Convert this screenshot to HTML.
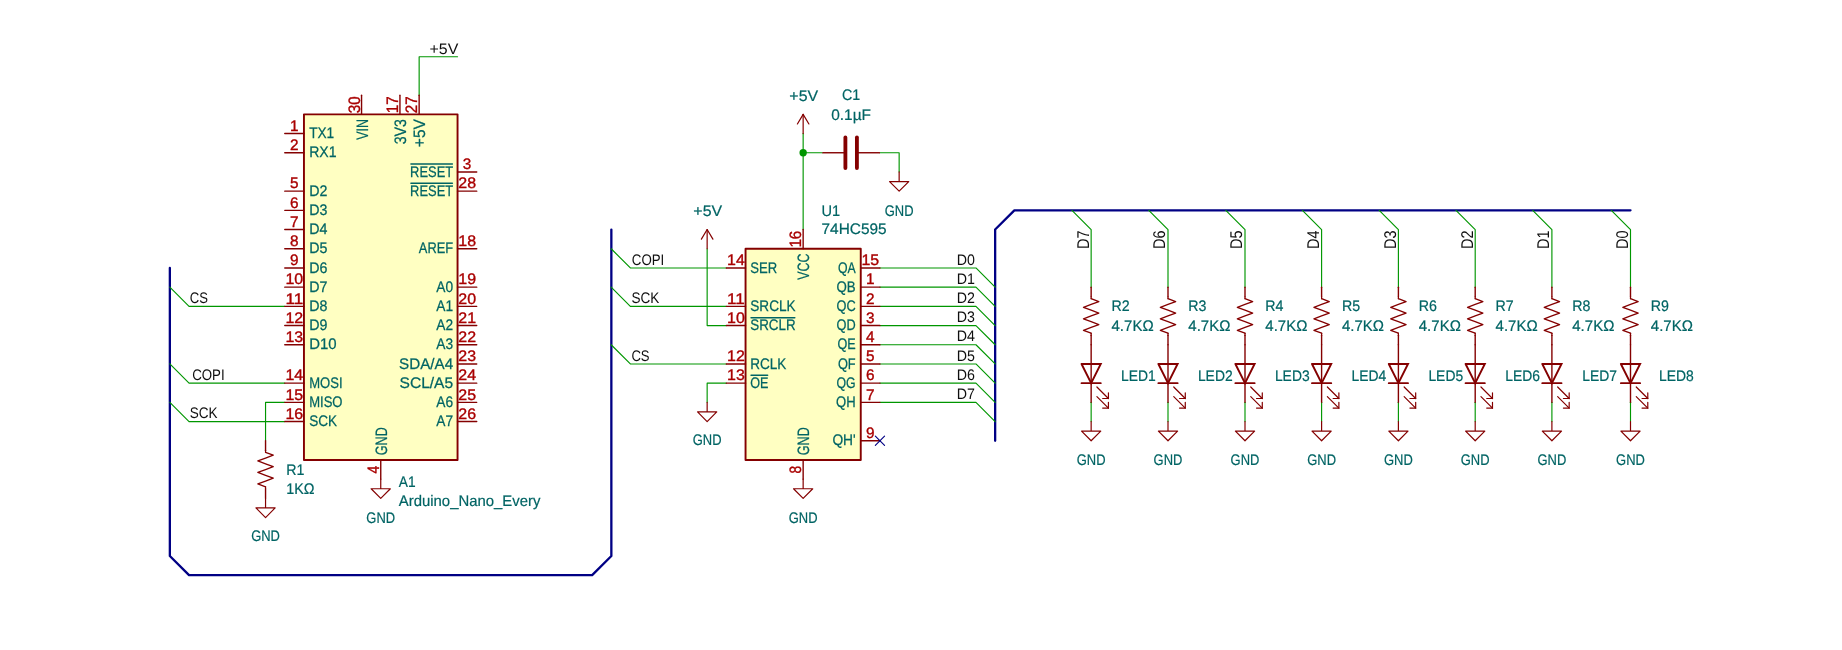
<!DOCTYPE html>
<html>
<head>
<meta charset="utf-8">
<title>Arduino Nano Every - 74HC595 LED schematic</title>
<style>
html,body{margin:0;padding:0;background:#ffffff;}
body{width:1842px;height:650px;overflow:hidden;}
svg{display:block;will-change:transform;}
svg text{font-family:"Liberation Sans",sans-serif;white-space:pre;text-rendering:geometricPrecision;}
</style>
</head>
<body>
<svg width="1842" height="650" viewBox="0 0 1842 650">
<rect x="0" y="0" width="1842" height="650" fill="#ffffff"/>
<g id="fills">
<rect x="303.95" y="114.35" width="153.60" height="345.60" fill="#ffffc2" stroke="#840000" stroke-width="1.92" stroke-linejoin="round"/>
<rect x="745.55" y="248.75" width="115.20" height="211.20" fill="#ffffc2" stroke="#840000" stroke-width="1.92" stroke-linejoin="round"/>
</g>
<g id="buses">
<path d="M169.85 267.95 L169.85 555.95 L189.05 575.15 L592.15 575.15 L611.35 555.95 L611.35 229.55" stroke="#000084" stroke-width="2.3" fill="none" stroke-linecap="round" stroke-linejoin="round"/>
<path d="M995.15 440.75 L995.15 229.55 L1014.35 210.35 L1630.50 210.35" stroke="#000084" stroke-width="2.3" fill="none" stroke-linecap="round" stroke-linejoin="round"/>
</g>
<g id="wires">
<path d="M169.85 287.15 L189.05 306.35 L284.75 306.35" stroke="#009600" stroke-width="1.15" fill="none" stroke-linecap="round" stroke-linejoin="round"/>
<path d="M169.85 363.95 L189.05 383.15 L284.75 383.15" stroke="#009600" stroke-width="1.15" fill="none" stroke-linecap="round" stroke-linejoin="round"/>
<path d="M169.85 402.35 L189.05 421.55 L284.75 421.55" stroke="#009600" stroke-width="1.15" fill="none" stroke-linecap="round" stroke-linejoin="round"/>
<path d="M284.75 402.35 L265.55 402.35 L265.55 440.75" stroke="#009600" stroke-width="1.15" fill="none" stroke-linecap="round" stroke-linejoin="round"/>
<path d="M419.15 95.15 L419.15 56.75 L457.55 56.75" stroke="#009600" stroke-width="1.15" fill="none" stroke-linecap="round" stroke-linejoin="round"/>
<path d="M611.15 248.75 L630.35 267.95 L726.35 267.95" stroke="#009600" stroke-width="1.15" fill="none" stroke-linecap="round" stroke-linejoin="round"/>
<path d="M611.15 287.15 L630.35 306.35 L726.35 306.35" stroke="#009600" stroke-width="1.15" fill="none" stroke-linecap="round" stroke-linejoin="round"/>
<path d="M611.15 344.75 L630.35 363.95 L726.35 363.95" stroke="#009600" stroke-width="1.15" fill="none" stroke-linecap="round" stroke-linejoin="round"/>
<path d="M707.15 248.75 L707.15 325.55 L726.35 325.55" stroke="#009600" stroke-width="1.15" fill="none" stroke-linecap="round" stroke-linejoin="round"/>
<path d="M726.35 383.15 L707.15 383.15 L707.15 402.35" stroke="#009600" stroke-width="1.15" fill="none" stroke-linecap="round" stroke-linejoin="round"/>
<path d="M803.15 229.55 L803.15 133.55" stroke="#009600" stroke-width="1.15" fill="none" stroke-linecap="round" stroke-linejoin="round"/>
<path d="M803.15 152.75 L822.35 152.75" stroke="#009600" stroke-width="1.15" fill="none" stroke-linecap="round" stroke-linejoin="round"/>
<path d="M879.95 152.75 L899.15 152.75 L899.15 171.95" stroke="#009600" stroke-width="1.15" fill="none" stroke-linecap="round" stroke-linejoin="round"/>
<path d="M879.95 267.95 L975.95 267.95 L995.15 287.15" stroke="#009600" stroke-width="1.15" fill="none" stroke-linecap="round" stroke-linejoin="round"/>
<path d="M879.95 287.15 L975.95 287.15 L995.15 306.35" stroke="#009600" stroke-width="1.15" fill="none" stroke-linecap="round" stroke-linejoin="round"/>
<path d="M879.95 306.35 L975.95 306.35 L995.15 325.55" stroke="#009600" stroke-width="1.15" fill="none" stroke-linecap="round" stroke-linejoin="round"/>
<path d="M879.95 325.55 L975.95 325.55 L995.15 344.75" stroke="#009600" stroke-width="1.15" fill="none" stroke-linecap="round" stroke-linejoin="round"/>
<path d="M879.95 344.75 L975.95 344.75 L995.15 363.95" stroke="#009600" stroke-width="1.15" fill="none" stroke-linecap="round" stroke-linejoin="round"/>
<path d="M879.95 363.95 L975.95 363.95 L995.15 383.15" stroke="#009600" stroke-width="1.15" fill="none" stroke-linecap="round" stroke-linejoin="round"/>
<path d="M879.95 383.15 L975.95 383.15 L995.15 402.35" stroke="#009600" stroke-width="1.15" fill="none" stroke-linecap="round" stroke-linejoin="round"/>
<path d="M879.95 402.35 L975.95 402.35 L995.15 421.55" stroke="#009600" stroke-width="1.15" fill="none" stroke-linecap="round" stroke-linejoin="round"/>
<path d="M1071.95 210.35 L1091.15 229.55 L1091.15 287.15" stroke="#009600" stroke-width="1.15" fill="none" stroke-linecap="round" stroke-linejoin="round"/>
<path d="M1091.15 402.35 L1091.15 421.55" stroke="#009600" stroke-width="1.15" fill="none" stroke-linecap="round" stroke-linejoin="round"/>
<path d="M1148.80 210.35 L1168.00 229.55 L1168.00 287.15" stroke="#009600" stroke-width="1.15" fill="none" stroke-linecap="round" stroke-linejoin="round"/>
<path d="M1168.00 402.35 L1168.00 421.55" stroke="#009600" stroke-width="1.15" fill="none" stroke-linecap="round" stroke-linejoin="round"/>
<path d="M1225.80 210.35 L1245.00 229.55 L1245.00 287.15" stroke="#009600" stroke-width="1.15" fill="none" stroke-linecap="round" stroke-linejoin="round"/>
<path d="M1245.00 402.35 L1245.00 421.55" stroke="#009600" stroke-width="1.15" fill="none" stroke-linecap="round" stroke-linejoin="round"/>
<path d="M1302.40 210.35 L1321.60 229.55 L1321.60 287.15" stroke="#009600" stroke-width="1.15" fill="none" stroke-linecap="round" stroke-linejoin="round"/>
<path d="M1321.60 402.35 L1321.60 421.55" stroke="#009600" stroke-width="1.15" fill="none" stroke-linecap="round" stroke-linejoin="round"/>
<path d="M1379.20 210.35 L1398.40 229.55 L1398.40 287.15" stroke="#009600" stroke-width="1.15" fill="none" stroke-linecap="round" stroke-linejoin="round"/>
<path d="M1398.40 402.35 L1398.40 421.55" stroke="#009600" stroke-width="1.15" fill="none" stroke-linecap="round" stroke-linejoin="round"/>
<path d="M1456.00 210.35 L1475.20 229.55 L1475.20 287.15" stroke="#009600" stroke-width="1.15" fill="none" stroke-linecap="round" stroke-linejoin="round"/>
<path d="M1475.20 402.35 L1475.20 421.55" stroke="#009600" stroke-width="1.15" fill="none" stroke-linecap="round" stroke-linejoin="round"/>
<path d="M1532.70 210.35 L1551.90 229.55 L1551.90 287.15" stroke="#009600" stroke-width="1.15" fill="none" stroke-linecap="round" stroke-linejoin="round"/>
<path d="M1551.90 402.35 L1551.90 421.55" stroke="#009600" stroke-width="1.15" fill="none" stroke-linecap="round" stroke-linejoin="round"/>
<path d="M1611.30 210.35 L1630.50 229.55 L1630.50 287.15" stroke="#009600" stroke-width="1.15" fill="none" stroke-linecap="round" stroke-linejoin="round"/>
<path d="M1630.50 402.35 L1630.50 421.55" stroke="#009600" stroke-width="1.15" fill="none" stroke-linecap="round" stroke-linejoin="round"/>
<circle cx="803.15" cy="152.75" r="3.7" fill="#009600"/>
</g>
<g id="arduino">
<path d="M284.75 133.55 L303.95 133.55" stroke="#840000" stroke-width="1.4" fill="none" stroke-linecap="round" stroke-linejoin="round"/>
<text x="309.15" y="138.20" fill="#006464" font-size="15.3" textLength="25.10" lengthAdjust="spacingAndGlyphs" stroke="#006464" stroke-width="0.25">TX1</text>
<text x="290.08" y="130.85" fill="#a90000" font-size="15.3" textLength="8.54" lengthAdjust="spacingAndGlyphs" stroke="#a90000" stroke-width="0.35">1</text>
<path d="M284.75 152.75 L303.95 152.75" stroke="#840000" stroke-width="1.4" fill="none" stroke-linecap="round" stroke-linejoin="round"/>
<text x="309.15" y="157.40" fill="#006464" font-size="15.3" textLength="27.40" lengthAdjust="spacingAndGlyphs" stroke="#006464" stroke-width="0.25">RX1</text>
<text x="290.08" y="150.05" fill="#a90000" font-size="15.3" textLength="8.54" lengthAdjust="spacingAndGlyphs" stroke="#a90000" stroke-width="0.35">2</text>
<path d="M284.75 191.15 L303.95 191.15" stroke="#840000" stroke-width="1.4" fill="none" stroke-linecap="round" stroke-linejoin="round"/>
<text x="309.15" y="195.80" fill="#006464" font-size="15.3" textLength="18.20" lengthAdjust="spacingAndGlyphs" stroke="#006464" stroke-width="0.25">D2</text>
<text x="290.08" y="188.45" fill="#a90000" font-size="15.3" textLength="8.54" lengthAdjust="spacingAndGlyphs" stroke="#a90000" stroke-width="0.35">5</text>
<path d="M284.75 210.35 L303.95 210.35" stroke="#840000" stroke-width="1.4" fill="none" stroke-linecap="round" stroke-linejoin="round"/>
<text x="309.15" y="215.00" fill="#006464" font-size="15.3" textLength="18.20" lengthAdjust="spacingAndGlyphs" stroke="#006464" stroke-width="0.25">D3</text>
<text x="290.08" y="207.65" fill="#a90000" font-size="15.3" textLength="8.54" lengthAdjust="spacingAndGlyphs" stroke="#a90000" stroke-width="0.35">6</text>
<path d="M284.75 229.55 L303.95 229.55" stroke="#840000" stroke-width="1.4" fill="none" stroke-linecap="round" stroke-linejoin="round"/>
<text x="309.15" y="234.20" fill="#006464" font-size="15.3" textLength="18.20" lengthAdjust="spacingAndGlyphs" stroke="#006464" stroke-width="0.25">D4</text>
<text x="290.08" y="226.85" fill="#a90000" font-size="15.3" textLength="8.54" lengthAdjust="spacingAndGlyphs" stroke="#a90000" stroke-width="0.35">7</text>
<path d="M284.75 248.75 L303.95 248.75" stroke="#840000" stroke-width="1.4" fill="none" stroke-linecap="round" stroke-linejoin="round"/>
<text x="309.15" y="253.40" fill="#006464" font-size="15.3" textLength="18.20" lengthAdjust="spacingAndGlyphs" stroke="#006464" stroke-width="0.25">D5</text>
<text x="290.08" y="246.05" fill="#a90000" font-size="15.3" textLength="8.54" lengthAdjust="spacingAndGlyphs" stroke="#a90000" stroke-width="0.35">8</text>
<path d="M284.75 267.95 L303.95 267.95" stroke="#840000" stroke-width="1.4" fill="none" stroke-linecap="round" stroke-linejoin="round"/>
<text x="309.15" y="272.60" fill="#006464" font-size="15.3" textLength="18.20" lengthAdjust="spacingAndGlyphs" stroke="#006464" stroke-width="0.25">D6</text>
<text x="290.08" y="265.25" fill="#a90000" font-size="15.3" textLength="8.54" lengthAdjust="spacingAndGlyphs" stroke="#a90000" stroke-width="0.35">9</text>
<path d="M284.75 287.15 L303.95 287.15" stroke="#840000" stroke-width="1.4" fill="none" stroke-linecap="round" stroke-linejoin="round"/>
<text x="309.15" y="291.80" fill="#006464" font-size="15.3" textLength="18.20" lengthAdjust="spacingAndGlyphs" stroke="#006464" stroke-width="0.25">D7</text>
<text x="285.48" y="284.45" fill="#a90000" font-size="15.3" textLength="17.74" lengthAdjust="spacingAndGlyphs" stroke="#a90000" stroke-width="0.35">10</text>
<path d="M284.75 306.35 L303.95 306.35" stroke="#840000" stroke-width="1.4" fill="none" stroke-linecap="round" stroke-linejoin="round"/>
<text x="309.15" y="311.00" fill="#006464" font-size="15.3" textLength="18.20" lengthAdjust="spacingAndGlyphs" stroke="#006464" stroke-width="0.25">D8</text>
<text x="285.48" y="303.65" fill="#a90000" font-size="15.3" textLength="17.74" lengthAdjust="spacingAndGlyphs" stroke="#a90000" stroke-width="0.35">11</text>
<path d="M284.75 325.55 L303.95 325.55" stroke="#840000" stroke-width="1.4" fill="none" stroke-linecap="round" stroke-linejoin="round"/>
<text x="309.15" y="330.20" fill="#006464" font-size="15.3" textLength="18.20" lengthAdjust="spacingAndGlyphs" stroke="#006464" stroke-width="0.25">D9</text>
<text x="285.48" y="322.85" fill="#a90000" font-size="15.3" textLength="17.74" lengthAdjust="spacingAndGlyphs" stroke="#a90000" stroke-width="0.35">12</text>
<path d="M284.75 344.75 L303.95 344.75" stroke="#840000" stroke-width="1.4" fill="none" stroke-linecap="round" stroke-linejoin="round"/>
<text x="309.15" y="349.40" fill="#006464" font-size="15.3" textLength="27.40" lengthAdjust="spacingAndGlyphs" stroke="#006464" stroke-width="0.25">D10</text>
<text x="285.48" y="342.05" fill="#a90000" font-size="15.3" textLength="17.74" lengthAdjust="spacingAndGlyphs" stroke="#a90000" stroke-width="0.35">13</text>
<path d="M284.75 383.15 L303.95 383.15" stroke="#840000" stroke-width="1.4" fill="none" stroke-linecap="round" stroke-linejoin="round"/>
<text x="309.15" y="387.80" fill="#006464" font-size="15.3" textLength="33.38" lengthAdjust="spacingAndGlyphs" stroke="#006464" stroke-width="0.25">MOSI</text>
<text x="285.48" y="380.45" fill="#a90000" font-size="15.3" textLength="17.74" lengthAdjust="spacingAndGlyphs" stroke="#a90000" stroke-width="0.35">14</text>
<path d="M284.75 402.35 L303.95 402.35" stroke="#840000" stroke-width="1.4" fill="none" stroke-linecap="round" stroke-linejoin="round"/>
<text x="309.15" y="407.00" fill="#006464" font-size="15.3" textLength="33.38" lengthAdjust="spacingAndGlyphs" stroke="#006464" stroke-width="0.25">MISO</text>
<text x="285.48" y="399.65" fill="#a90000" font-size="15.3" textLength="17.74" lengthAdjust="spacingAndGlyphs" stroke="#a90000" stroke-width="0.35">15</text>
<path d="M284.75 421.55 L303.95 421.55" stroke="#840000" stroke-width="1.4" fill="none" stroke-linecap="round" stroke-linejoin="round"/>
<text x="309.15" y="426.20" fill="#006464" font-size="15.3" textLength="27.86" lengthAdjust="spacingAndGlyphs" stroke="#006464" stroke-width="0.25">SCK</text>
<text x="285.48" y="418.85" fill="#a90000" font-size="15.3" textLength="17.74" lengthAdjust="spacingAndGlyphs" stroke="#a90000" stroke-width="0.35">16</text>
<path d="M457.55 171.95 L476.75 171.95" stroke="#840000" stroke-width="1.4" fill="none" stroke-linecap="round" stroke-linejoin="round"/>
<text x="410.11" y="176.60" fill="#006464" font-size="15.3" textLength="43.04" lengthAdjust="spacingAndGlyphs" stroke="#006464" stroke-width="0.25">RESET</text>
<path d="M410.91 164.10 L452.35 164.10" stroke="#006464" stroke-width="1.5" fill="none" stroke-linecap="round" stroke-linejoin="round"/>
<text x="462.88" y="169.25" fill="#a90000" font-size="15.3" textLength="8.54" lengthAdjust="spacingAndGlyphs" stroke="#a90000" stroke-width="0.35">3</text>
<path d="M457.55 191.15 L476.75 191.15" stroke="#840000" stroke-width="1.4" fill="none" stroke-linecap="round" stroke-linejoin="round"/>
<text x="410.11" y="195.80" fill="#006464" font-size="15.3" textLength="43.04" lengthAdjust="spacingAndGlyphs" stroke="#006464" stroke-width="0.25">RESET</text>
<path d="M410.91 183.30 L452.35 183.30" stroke="#006464" stroke-width="1.5" fill="none" stroke-linecap="round" stroke-linejoin="round"/>
<text x="458.28" y="188.45" fill="#a90000" font-size="15.3" textLength="17.74" lengthAdjust="spacingAndGlyphs" stroke="#a90000" stroke-width="0.35">28</text>
<path d="M457.55 248.75 L476.75 248.75" stroke="#840000" stroke-width="1.4" fill="none" stroke-linecap="round" stroke-linejoin="round"/>
<text x="418.85" y="253.40" fill="#006464" font-size="15.3" textLength="34.30" lengthAdjust="spacingAndGlyphs" stroke="#006464" stroke-width="0.25">AREF</text>
<text x="458.28" y="246.05" fill="#a90000" font-size="15.3" textLength="17.74" lengthAdjust="spacingAndGlyphs" stroke="#a90000" stroke-width="0.35">18</text>
<path d="M457.55 287.15 L476.75 287.15" stroke="#840000" stroke-width="1.4" fill="none" stroke-linecap="round" stroke-linejoin="round"/>
<text x="436.33" y="291.80" fill="#006464" font-size="15.3" textLength="16.82" lengthAdjust="spacingAndGlyphs" stroke="#006464" stroke-width="0.25">A0</text>
<text x="458.28" y="284.45" fill="#a90000" font-size="15.3" textLength="17.74" lengthAdjust="spacingAndGlyphs" stroke="#a90000" stroke-width="0.35">19</text>
<path d="M457.55 306.35 L476.75 306.35" stroke="#840000" stroke-width="1.4" fill="none" stroke-linecap="round" stroke-linejoin="round"/>
<text x="436.33" y="311.00" fill="#006464" font-size="15.3" textLength="16.82" lengthAdjust="spacingAndGlyphs" stroke="#006464" stroke-width="0.25">A1</text>
<text x="458.28" y="303.65" fill="#a90000" font-size="15.3" textLength="17.74" lengthAdjust="spacingAndGlyphs" stroke="#a90000" stroke-width="0.35">20</text>
<path d="M457.55 325.55 L476.75 325.55" stroke="#840000" stroke-width="1.4" fill="none" stroke-linecap="round" stroke-linejoin="round"/>
<text x="436.33" y="330.20" fill="#006464" font-size="15.3" textLength="16.82" lengthAdjust="spacingAndGlyphs" stroke="#006464" stroke-width="0.25">A2</text>
<text x="458.28" y="322.85" fill="#a90000" font-size="15.3" textLength="17.74" lengthAdjust="spacingAndGlyphs" stroke="#a90000" stroke-width="0.35">21</text>
<path d="M457.55 344.75 L476.75 344.75" stroke="#840000" stroke-width="1.4" fill="none" stroke-linecap="round" stroke-linejoin="round"/>
<text x="436.33" y="349.40" fill="#006464" font-size="15.3" textLength="16.82" lengthAdjust="spacingAndGlyphs" stroke="#006464" stroke-width="0.25">A3</text>
<text x="458.28" y="342.05" fill="#a90000" font-size="15.3" textLength="17.74" lengthAdjust="spacingAndGlyphs" stroke="#a90000" stroke-width="0.35">22</text>
<path d="M457.55 363.95 L476.75 363.95" stroke="#840000" stroke-width="1.4" fill="none" stroke-linecap="round" stroke-linejoin="round"/>
<text x="399.07" y="368.60" fill="#006464" font-size="15.3" textLength="54.08" lengthAdjust="spacingAndGlyphs" stroke="#006464" stroke-width="0.25">SDA/A4</text>
<text x="458.28" y="361.25" fill="#a90000" font-size="15.3" textLength="17.74" lengthAdjust="spacingAndGlyphs" stroke="#a90000" stroke-width="0.35">23</text>
<path d="M457.55 383.15 L476.75 383.15" stroke="#840000" stroke-width="1.4" fill="none" stroke-linecap="round" stroke-linejoin="round"/>
<text x="399.53" y="387.80" fill="#006464" font-size="15.3" textLength="53.62" lengthAdjust="spacingAndGlyphs" stroke="#006464" stroke-width="0.25">SCL/A5</text>
<text x="458.28" y="380.45" fill="#a90000" font-size="15.3" textLength="17.74" lengthAdjust="spacingAndGlyphs" stroke="#a90000" stroke-width="0.35">24</text>
<path d="M457.55 402.35 L476.75 402.35" stroke="#840000" stroke-width="1.4" fill="none" stroke-linecap="round" stroke-linejoin="round"/>
<text x="436.33" y="407.00" fill="#006464" font-size="15.3" textLength="16.82" lengthAdjust="spacingAndGlyphs" stroke="#006464" stroke-width="0.25">A6</text>
<text x="458.28" y="399.65" fill="#a90000" font-size="15.3" textLength="17.74" lengthAdjust="spacingAndGlyphs" stroke="#a90000" stroke-width="0.35">25</text>
<path d="M457.55 421.55 L476.75 421.55" stroke="#840000" stroke-width="1.4" fill="none" stroke-linecap="round" stroke-linejoin="round"/>
<text x="436.33" y="426.20" fill="#006464" font-size="15.3" textLength="16.82" lengthAdjust="spacingAndGlyphs" stroke="#006464" stroke-width="0.25">A7</text>
<text x="458.28" y="418.85" fill="#a90000" font-size="15.3" textLength="17.74" lengthAdjust="spacingAndGlyphs" stroke="#a90000" stroke-width="0.35">26</text>
<path d="M361.55 95.15 L361.55 114.35" stroke="#840000" stroke-width="1.4" fill="none" stroke-linecap="round" stroke-linejoin="round"/>
<text transform="translate(367.53 139.77) rotate(-90)" fill="#006464" font-size="16.5" textLength="20.62" lengthAdjust="spacingAndGlyphs" stroke="#006464" stroke-width="0.25">VIN</text>
<text transform="translate(359.68 113.22) rotate(-90)" fill="#a90000" font-size="16.5" textLength="16.94" lengthAdjust="spacingAndGlyphs" stroke="#a90000" stroke-width="0.35">30</text>
<path d="M399.95 95.15 L399.95 114.35" stroke="#840000" stroke-width="1.4" fill="none" stroke-linecap="round" stroke-linejoin="round"/>
<text transform="translate(405.93 144.37) rotate(-90)" fill="#006464" font-size="16.5" textLength="25.22" lengthAdjust="spacingAndGlyphs" stroke="#006464" stroke-width="0.25">3V3</text>
<text transform="translate(398.08 113.22) rotate(-90)" fill="#a90000" font-size="16.5" textLength="16.94" lengthAdjust="spacingAndGlyphs" stroke="#a90000" stroke-width="0.35">17</text>
<path d="M419.15 95.15 L419.15 114.35" stroke="#840000" stroke-width="1.4" fill="none" stroke-linecap="round" stroke-linejoin="round"/>
<text transform="translate(425.13 147.13) rotate(-90)" fill="#006464" font-size="16.5" textLength="27.98" lengthAdjust="spacingAndGlyphs" stroke="#006464" stroke-width="0.25">+5V</text>
<text transform="translate(417.28 113.22) rotate(-90)" fill="#a90000" font-size="16.5" textLength="16.94" lengthAdjust="spacingAndGlyphs" stroke="#a90000" stroke-width="0.35">27</text>
<path d="M380.75 459.95 L380.75 479.15" stroke="#840000" stroke-width="1.4" fill="none" stroke-linecap="round" stroke-linejoin="round"/>
<text transform="translate(386.93 455.25) rotate(-90)" fill="#006464" font-size="16.5" textLength="27.98" lengthAdjust="spacingAndGlyphs" stroke="#006464" stroke-width="0.25">GND</text>
<text transform="translate(378.88 473.42) rotate(-90)" fill="#a90000" font-size="16.5" textLength="7.74" lengthAdjust="spacingAndGlyphs" stroke="#a90000" stroke-width="0.35">4</text>
<text x="398.80" y="486.65" fill="#006464" font-size="15.3" textLength="16.82" lengthAdjust="spacingAndGlyphs" stroke="#006464" stroke-width="0.2">A1</text>
<text x="398.80" y="506.05" fill="#006464" font-size="15.3" textLength="141.57" lengthAdjust="spacingAndGlyphs" stroke="#006464" stroke-width="0.2">Arduino_Nano_Every</text>
</g>
<g id="u1">
<path d="M726.35 267.95 L745.55 267.95" stroke="#840000" stroke-width="1.4" fill="none" stroke-linecap="round" stroke-linejoin="round"/>
<text x="750.25" y="272.60" fill="#006464" font-size="15.3" textLength="26.94" lengthAdjust="spacingAndGlyphs" stroke="#006464" stroke-width="0.25">SER</text>
<text x="727.08" y="265.25" fill="#a90000" font-size="15.3" textLength="17.74" lengthAdjust="spacingAndGlyphs" stroke="#a90000" stroke-width="0.35">14</text>
<path d="M726.35 306.35 L745.55 306.35" stroke="#840000" stroke-width="1.4" fill="none" stroke-linecap="round" stroke-linejoin="round"/>
<text x="750.25" y="311.00" fill="#006464" font-size="15.3" textLength="45.34" lengthAdjust="spacingAndGlyphs" stroke="#006464" stroke-width="0.25">SRCLK</text>
<text x="727.08" y="303.65" fill="#a90000" font-size="15.3" textLength="17.74" lengthAdjust="spacingAndGlyphs" stroke="#a90000" stroke-width="0.35">11</text>
<path d="M726.35 325.55 L745.55 325.55" stroke="#840000" stroke-width="1.4" fill="none" stroke-linecap="round" stroke-linejoin="round"/>
<text x="750.25" y="330.20" fill="#006464" font-size="15.3" textLength="45.34" lengthAdjust="spacingAndGlyphs" stroke="#006464" stroke-width="0.25">SRCLR</text>
<path d="M751.05 317.70 L794.79 317.70" stroke="#006464" stroke-width="1.5" fill="none" stroke-linecap="round" stroke-linejoin="round"/>
<text x="727.08" y="322.85" fill="#a90000" font-size="15.3" textLength="17.74" lengthAdjust="spacingAndGlyphs" stroke="#a90000" stroke-width="0.35">10</text>
<path d="M726.35 363.95 L745.55 363.95" stroke="#840000" stroke-width="1.4" fill="none" stroke-linecap="round" stroke-linejoin="round"/>
<text x="750.25" y="368.60" fill="#006464" font-size="15.3" textLength="36.14" lengthAdjust="spacingAndGlyphs" stroke="#006464" stroke-width="0.25">RCLK</text>
<text x="727.08" y="361.25" fill="#a90000" font-size="15.3" textLength="17.74" lengthAdjust="spacingAndGlyphs" stroke="#a90000" stroke-width="0.35">12</text>
<path d="M726.35 383.15 L745.55 383.15" stroke="#840000" stroke-width="1.4" fill="none" stroke-linecap="round" stroke-linejoin="round"/>
<text x="750.25" y="387.80" fill="#006464" font-size="15.3" textLength="18.20" lengthAdjust="spacingAndGlyphs" stroke="#006464" stroke-width="0.25">OE</text>
<path d="M751.05 375.30 L767.65 375.30" stroke="#006464" stroke-width="1.5" fill="none" stroke-linecap="round" stroke-linejoin="round"/>
<text x="727.08" y="380.45" fill="#a90000" font-size="15.3" textLength="17.74" lengthAdjust="spacingAndGlyphs" stroke="#a90000" stroke-width="0.35">13</text>
<path d="M860.75 267.95 L879.95 267.95" stroke="#840000" stroke-width="1.4" fill="none" stroke-linecap="round" stroke-linejoin="round"/>
<text x="837.91" y="272.60" fill="#006464" font-size="15.3" textLength="17.74" lengthAdjust="spacingAndGlyphs" stroke="#006464" stroke-width="0.25">QA</text>
<text x="861.48" y="265.25" fill="#a90000" font-size="15.3" textLength="17.74" lengthAdjust="spacingAndGlyphs" stroke="#a90000" stroke-width="0.35">15</text>
<path d="M860.75 287.15 L879.95 287.15" stroke="#840000" stroke-width="1.4" fill="none" stroke-linecap="round" stroke-linejoin="round"/>
<text x="836.53" y="291.80" fill="#006464" font-size="15.3" textLength="19.12" lengthAdjust="spacingAndGlyphs" stroke="#006464" stroke-width="0.25">QB</text>
<text x="866.08" y="284.45" fill="#a90000" font-size="15.3" textLength="8.54" lengthAdjust="spacingAndGlyphs" stroke="#a90000" stroke-width="0.35">1</text>
<path d="M860.75 306.35 L879.95 306.35" stroke="#840000" stroke-width="1.4" fill="none" stroke-linecap="round" stroke-linejoin="round"/>
<text x="836.53" y="311.00" fill="#006464" font-size="15.3" textLength="19.12" lengthAdjust="spacingAndGlyphs" stroke="#006464" stroke-width="0.25">QC</text>
<text x="866.08" y="303.65" fill="#a90000" font-size="15.3" textLength="8.54" lengthAdjust="spacingAndGlyphs" stroke="#a90000" stroke-width="0.35">2</text>
<path d="M860.75 325.55 L879.95 325.55" stroke="#840000" stroke-width="1.4" fill="none" stroke-linecap="round" stroke-linejoin="round"/>
<text x="836.53" y="330.20" fill="#006464" font-size="15.3" textLength="19.12" lengthAdjust="spacingAndGlyphs" stroke="#006464" stroke-width="0.25">QD</text>
<text x="866.08" y="322.85" fill="#a90000" font-size="15.3" textLength="8.54" lengthAdjust="spacingAndGlyphs" stroke="#a90000" stroke-width="0.35">3</text>
<path d="M860.75 344.75 L879.95 344.75" stroke="#840000" stroke-width="1.4" fill="none" stroke-linecap="round" stroke-linejoin="round"/>
<text x="837.45" y="349.40" fill="#006464" font-size="15.3" textLength="18.20" lengthAdjust="spacingAndGlyphs" stroke="#006464" stroke-width="0.25">QE</text>
<text x="866.08" y="342.05" fill="#a90000" font-size="15.3" textLength="8.54" lengthAdjust="spacingAndGlyphs" stroke="#a90000" stroke-width="0.35">4</text>
<path d="M860.75 363.95 L879.95 363.95" stroke="#840000" stroke-width="1.4" fill="none" stroke-linecap="round" stroke-linejoin="round"/>
<text x="837.91" y="368.60" fill="#006464" font-size="15.3" textLength="17.74" lengthAdjust="spacingAndGlyphs" stroke="#006464" stroke-width="0.25">QF</text>
<text x="866.08" y="361.25" fill="#a90000" font-size="15.3" textLength="8.54" lengthAdjust="spacingAndGlyphs" stroke="#a90000" stroke-width="0.35">5</text>
<path d="M860.75 383.15 L879.95 383.15" stroke="#840000" stroke-width="1.4" fill="none" stroke-linecap="round" stroke-linejoin="round"/>
<text x="836.53" y="387.80" fill="#006464" font-size="15.3" textLength="19.12" lengthAdjust="spacingAndGlyphs" stroke="#006464" stroke-width="0.25">QG</text>
<text x="866.08" y="380.45" fill="#a90000" font-size="15.3" textLength="8.54" lengthAdjust="spacingAndGlyphs" stroke="#a90000" stroke-width="0.35">6</text>
<path d="M860.75 402.35 L879.95 402.35" stroke="#840000" stroke-width="1.4" fill="none" stroke-linecap="round" stroke-linejoin="round"/>
<text x="836.07" y="407.00" fill="#006464" font-size="15.3" textLength="19.58" lengthAdjust="spacingAndGlyphs" stroke="#006464" stroke-width="0.25">QH</text>
<text x="866.08" y="399.65" fill="#a90000" font-size="15.3" textLength="8.54" lengthAdjust="spacingAndGlyphs" stroke="#a90000" stroke-width="0.35">7</text>
<path d="M860.75 440.75 L879.95 440.75" stroke="#840000" stroke-width="1.4" fill="none" stroke-linecap="round" stroke-linejoin="round"/>
<text x="832.39" y="445.40" fill="#006464" font-size="15.3" textLength="23.26" lengthAdjust="spacingAndGlyphs" stroke="#006464" stroke-width="0.25">QH'</text>
<text x="866.08" y="438.05" fill="#a90000" font-size="15.3" textLength="8.54" lengthAdjust="spacingAndGlyphs" stroke="#a90000" stroke-width="0.35">9</text>
<path d="M803.15 229.55 L803.15 248.75" stroke="#840000" stroke-width="1.4" fill="none" stroke-linecap="round" stroke-linejoin="round"/>
<path d="M803.15 459.95 L803.15 479.15" stroke="#840000" stroke-width="1.4" fill="none" stroke-linecap="round" stroke-linejoin="round"/>
<text transform="translate(809.13 279.69) rotate(-90)" fill="#006464" font-size="16.5" textLength="26.14" lengthAdjust="spacingAndGlyphs" stroke="#006464" stroke-width="0.25">VCC</text>
<text transform="translate(801.28 247.62) rotate(-90)" fill="#a90000" font-size="16.5" textLength="16.94" lengthAdjust="spacingAndGlyphs" stroke="#a90000" stroke-width="0.35">16</text>
<text transform="translate(809.33 455.25) rotate(-90)" fill="#006464" font-size="16.5" textLength="27.98" lengthAdjust="spacingAndGlyphs" stroke="#006464" stroke-width="0.25">GND</text>
<text transform="translate(801.28 473.42) rotate(-90)" fill="#a90000" font-size="16.5" textLength="7.74" lengthAdjust="spacingAndGlyphs" stroke="#a90000" stroke-width="0.35">8</text>
<text x="821.50" y="215.65" fill="#006464" font-size="15.3" textLength="18.66" lengthAdjust="spacingAndGlyphs" stroke="#006464" stroke-width="0.2">U1</text>
<text x="821.50" y="234.45" fill="#006464" font-size="15.3" textLength="65.12" lengthAdjust="spacingAndGlyphs" stroke="#006464" stroke-width="0.2">74HC595</text>
<path d="M875.35 436.15 L884.55 445.35" stroke="#000084" stroke-width="1.15" fill="none" stroke-linecap="round" stroke-linejoin="round"/>
<path d="M875.35 445.35 L884.55 436.15" stroke="#000084" stroke-width="1.15" fill="none" stroke-linecap="round" stroke-linejoin="round"/>
</g>
<g id="parts">
<path d="M803.15 133.55 L803.15 114.35" stroke="#840000" stroke-width="1.2" fill="none" stroke-linecap="round" stroke-linejoin="round"/>
<path d="M797.39 123.95 L803.15 114.35 L808.91 123.95" stroke="#840000" stroke-width="1.2" fill="none" stroke-linecap="round" stroke-linejoin="round"/>
<text x="789.36" y="100.60" fill="#006464" font-size="15.3" textLength="28.78" lengthAdjust="spacingAndGlyphs" stroke="#006464" stroke-width="0.2">+5V</text>
<path d="M707.15 248.75 L707.15 229.55" stroke="#840000" stroke-width="1.2" fill="none" stroke-linecap="round" stroke-linejoin="round"/>
<path d="M701.39 239.15 L707.15 229.55 L712.91 239.15" stroke="#840000" stroke-width="1.2" fill="none" stroke-linecap="round" stroke-linejoin="round"/>
<text x="693.36" y="215.80" fill="#006464" font-size="15.3" textLength="28.78" lengthAdjust="spacingAndGlyphs" stroke="#006464" stroke-width="0.2">+5V</text>
<path d="M899.15 171.95 L899.15 181.55 L908.75 181.55 L899.15 191.15 L889.55 181.55 L899.15 181.55" stroke="#840000" stroke-width="1.2" fill="none" stroke-linecap="round" stroke-linejoin="round"/>
<text x="884.76" y="215.50" fill="#006464" font-size="15.3" textLength="28.78" lengthAdjust="spacingAndGlyphs" stroke="#006464" stroke-width="0.2">GND</text>
<path d="M707.15 402.35 L707.15 411.95 L716.75 411.95 L707.15 421.55 L697.55 411.95 L707.15 411.95" stroke="#840000" stroke-width="1.2" fill="none" stroke-linecap="round" stroke-linejoin="round"/>
<text x="692.76" y="445.40" fill="#006464" font-size="15.3" textLength="28.78" lengthAdjust="spacingAndGlyphs" stroke="#006464" stroke-width="0.2">GND</text>
<path d="M803.15 479.15 L803.15 488.75 L812.75 488.75 L803.15 498.35 L793.55 488.75 L803.15 488.75" stroke="#840000" stroke-width="1.2" fill="none" stroke-linecap="round" stroke-linejoin="round"/>
<text x="788.76" y="522.70" fill="#006464" font-size="15.3" textLength="28.78" lengthAdjust="spacingAndGlyphs" stroke="#006464" stroke-width="0.2">GND</text>
<path d="M380.75 479.15 L380.75 488.75 L390.35 488.75 L380.75 498.35 L371.15 488.75 L380.75 488.75" stroke="#840000" stroke-width="1.2" fill="none" stroke-linecap="round" stroke-linejoin="round"/>
<text x="366.36" y="522.70" fill="#006464" font-size="15.3" textLength="28.78" lengthAdjust="spacingAndGlyphs" stroke="#006464" stroke-width="0.2">GND</text>
<path d="M265.55 498.35 L265.55 507.95 L275.15 507.95 L265.55 517.55 L255.95 507.95 L265.55 507.95" stroke="#840000" stroke-width="1.2" fill="none" stroke-linecap="round" stroke-linejoin="round"/>
<text x="251.16" y="541.40" fill="#006464" font-size="15.3" textLength="28.78" lengthAdjust="spacingAndGlyphs" stroke="#006464" stroke-width="0.2">GND</text>
<path d="M822.35 152.75 L845.39 152.75" stroke="#840000" stroke-width="1.4" fill="none" stroke-linecap="butt" stroke-linejoin="round"/>
<path d="M856.91 152.75 L879.95 152.75" stroke="#840000" stroke-width="1.4" fill="none" stroke-linecap="butt" stroke-linejoin="round"/>
<path d="M845.39 137.39 L845.39 168.11" stroke="#840000" stroke-width="3.84" fill="none" stroke-linecap="round" stroke-linejoin="round"/>
<path d="M856.91 137.39 L856.91 168.11" stroke="#840000" stroke-width="3.84" fill="none" stroke-linecap="round" stroke-linejoin="round"/>
<text x="842.05" y="100.20" fill="#006464" font-size="15.3" textLength="18.20" lengthAdjust="spacingAndGlyphs" stroke="#006464" stroke-width="0.2">C1</text>
<text x="831.24" y="119.60" fill="#006464" font-size="15.3" textLength="39.82" lengthAdjust="spacingAndGlyphs" stroke="#006464" stroke-width="0.2">0.1µF</text>
<path d="M265.55 440.75 L265.55 450.35" stroke="#840000" stroke-width="1.4" fill="none" stroke-linecap="round" stroke-linejoin="round"/>
<path d="M265.55 450.35 L265.55 452.27" stroke="#840000" stroke-width="1.2" fill="none" stroke-linecap="round" stroke-linejoin="round"/>
<path d="M265.55 452.27 L273.23 455.15 L265.55 458.03 L257.87 460.91 L265.55 463.79 L273.23 466.67 L265.55 469.55 L257.87 472.43 L265.55 475.31 L273.23 478.19 L265.55 481.07 L257.87 483.95 L265.55 486.83" stroke="#840000" stroke-width="1.3" fill="none" stroke-linecap="round" stroke-linejoin="round"/>
<path d="M265.55 486.83 L265.55 488.75" stroke="#840000" stroke-width="1.2" fill="none" stroke-linecap="round" stroke-linejoin="round"/>
<path d="M265.55 488.75 L265.55 498.35" stroke="#840000" stroke-width="1.4" fill="none" stroke-linecap="round" stroke-linejoin="round"/>
<text x="286.20" y="475.20" fill="#006464" font-size="15.3" textLength="18.20" lengthAdjust="spacingAndGlyphs" stroke="#006464" stroke-width="0.2">R1</text>
<text x="286.20" y="494.20" fill="#006464" font-size="15.3" textLength="28.32" lengthAdjust="spacingAndGlyphs" stroke="#006464" stroke-width="0.2">1KΩ</text>
<path d="M1091.15 287.15 L1091.15 296.75" stroke="#840000" stroke-width="1.4" fill="none" stroke-linecap="round" stroke-linejoin="round"/>
<path d="M1091.15 296.75 L1091.15 298.67" stroke="#840000" stroke-width="1.2" fill="none" stroke-linecap="round" stroke-linejoin="round"/>
<path d="M1091.15 298.67 L1098.83 301.55 L1091.15 304.43 L1083.47 307.31 L1091.15 310.19 L1098.83 313.07 L1091.15 315.95 L1083.47 318.83 L1091.15 321.71 L1098.83 324.59 L1091.15 327.47 L1083.47 330.35 L1091.15 333.23" stroke="#840000" stroke-width="1.3" fill="none" stroke-linecap="round" stroke-linejoin="round"/>
<path d="M1091.15 333.23 L1091.15 335.15" stroke="#840000" stroke-width="1.2" fill="none" stroke-linecap="round" stroke-linejoin="round"/>
<path d="M1091.15 335.15 L1091.15 344.75" stroke="#840000" stroke-width="1.4" fill="none" stroke-linecap="round" stroke-linejoin="round"/>
<text x="1111.50" y="311.40" fill="#006464" font-size="15.3" textLength="18.20" lengthAdjust="spacingAndGlyphs" stroke="#006464" stroke-width="0.2">R2</text>
<text x="1111.50" y="331.00" fill="#006464" font-size="15.3" textLength="42.12" lengthAdjust="spacingAndGlyphs" stroke="#006464" stroke-width="0.2">4.7KΩ</text>
<path d="M1091.15 344.75 L1091.15 402.35" stroke="#840000" stroke-width="1.4" fill="none" stroke-linecap="round" stroke-linejoin="round"/>
<path d="M1081.55 363.95 L1100.75 363.95 L1091.15 383.15 L1081.55 363.95" stroke="#840000" stroke-width="1.92" fill="none" stroke-linecap="round" stroke-linejoin="miter" stroke-miterlimit="10"/>
<path d="M1081.55 383.15 L1100.75 383.15" stroke="#840000" stroke-width="1.92" fill="none" stroke-linecap="round" stroke-linejoin="round"/>
<path d="M1096.91 386.99 L1108.43 398.51" stroke="#840000" stroke-width="1.2" fill="none" stroke-linecap="round" stroke-linejoin="round"/>
<path d="M1108.43 392.75 L1108.43 398.51 L1102.67 398.51" stroke="#840000" stroke-width="1.2" fill="none" stroke-linecap="round" stroke-linejoin="miter"/>
<path d="M1096.91 396.59 L1108.43 408.11" stroke="#840000" stroke-width="1.2" fill="none" stroke-linecap="round" stroke-linejoin="round"/>
<path d="M1108.43 402.35 L1108.43 408.11 L1102.67 408.11" stroke="#840000" stroke-width="1.2" fill="none" stroke-linecap="round" stroke-linejoin="miter"/>
<text x="1121.05" y="380.80" fill="#006464" font-size="15.3" textLength="34.76" lengthAdjust="spacingAndGlyphs" stroke="#006464" stroke-width="0.2">LED1</text>
<path d="M1091.15 421.55 L1091.15 431.15 L1100.75 431.15 L1091.15 440.75 L1081.55 431.15 L1091.15 431.15" stroke="#840000" stroke-width="1.2" fill="none" stroke-linecap="round" stroke-linejoin="round"/>
<text x="1076.76" y="465.10" fill="#006464" font-size="15.3" textLength="28.78" lengthAdjust="spacingAndGlyphs" stroke="#006464" stroke-width="0.2">GND</text>
<path d="M1168.00 287.15 L1168.00 296.75" stroke="#840000" stroke-width="1.4" fill="none" stroke-linecap="round" stroke-linejoin="round"/>
<path d="M1168.00 296.75 L1168.00 298.67" stroke="#840000" stroke-width="1.2" fill="none" stroke-linecap="round" stroke-linejoin="round"/>
<path d="M1168.00 298.67 L1175.68 301.55 L1168.00 304.43 L1160.32 307.31 L1168.00 310.19 L1175.68 313.07 L1168.00 315.95 L1160.32 318.83 L1168.00 321.71 L1175.68 324.59 L1168.00 327.47 L1160.32 330.35 L1168.00 333.23" stroke="#840000" stroke-width="1.3" fill="none" stroke-linecap="round" stroke-linejoin="round"/>
<path d="M1168.00 333.23 L1168.00 335.15" stroke="#840000" stroke-width="1.2" fill="none" stroke-linecap="round" stroke-linejoin="round"/>
<path d="M1168.00 335.15 L1168.00 344.75" stroke="#840000" stroke-width="1.4" fill="none" stroke-linecap="round" stroke-linejoin="round"/>
<text x="1188.35" y="311.40" fill="#006464" font-size="15.3" textLength="18.20" lengthAdjust="spacingAndGlyphs" stroke="#006464" stroke-width="0.2">R3</text>
<text x="1188.35" y="331.00" fill="#006464" font-size="15.3" textLength="42.12" lengthAdjust="spacingAndGlyphs" stroke="#006464" stroke-width="0.2">4.7KΩ</text>
<path d="M1168.00 344.75 L1168.00 402.35" stroke="#840000" stroke-width="1.4" fill="none" stroke-linecap="round" stroke-linejoin="round"/>
<path d="M1158.40 363.95 L1177.60 363.95 L1168.00 383.15 L1158.40 363.95" stroke="#840000" stroke-width="1.92" fill="none" stroke-linecap="round" stroke-linejoin="miter" stroke-miterlimit="10"/>
<path d="M1158.40 383.15 L1177.60 383.15" stroke="#840000" stroke-width="1.92" fill="none" stroke-linecap="round" stroke-linejoin="round"/>
<path d="M1173.76 386.99 L1185.28 398.51" stroke="#840000" stroke-width="1.2" fill="none" stroke-linecap="round" stroke-linejoin="round"/>
<path d="M1185.28 392.75 L1185.28 398.51 L1179.52 398.51" stroke="#840000" stroke-width="1.2" fill="none" stroke-linecap="round" stroke-linejoin="miter"/>
<path d="M1173.76 396.59 L1185.28 408.11" stroke="#840000" stroke-width="1.2" fill="none" stroke-linecap="round" stroke-linejoin="round"/>
<path d="M1185.28 402.35 L1185.28 408.11 L1179.52 408.11" stroke="#840000" stroke-width="1.2" fill="none" stroke-linecap="round" stroke-linejoin="miter"/>
<text x="1197.90" y="380.80" fill="#006464" font-size="15.3" textLength="34.76" lengthAdjust="spacingAndGlyphs" stroke="#006464" stroke-width="0.2">LED2</text>
<path d="M1168.00 421.55 L1168.00 431.15 L1177.60 431.15 L1168.00 440.75 L1158.40 431.15 L1168.00 431.15" stroke="#840000" stroke-width="1.2" fill="none" stroke-linecap="round" stroke-linejoin="round"/>
<text x="1153.61" y="465.10" fill="#006464" font-size="15.3" textLength="28.78" lengthAdjust="spacingAndGlyphs" stroke="#006464" stroke-width="0.2">GND</text>
<path d="M1245.00 287.15 L1245.00 296.75" stroke="#840000" stroke-width="1.4" fill="none" stroke-linecap="round" stroke-linejoin="round"/>
<path d="M1245.00 296.75 L1245.00 298.67" stroke="#840000" stroke-width="1.2" fill="none" stroke-linecap="round" stroke-linejoin="round"/>
<path d="M1245.00 298.67 L1252.68 301.55 L1245.00 304.43 L1237.32 307.31 L1245.00 310.19 L1252.68 313.07 L1245.00 315.95 L1237.32 318.83 L1245.00 321.71 L1252.68 324.59 L1245.00 327.47 L1237.32 330.35 L1245.00 333.23" stroke="#840000" stroke-width="1.3" fill="none" stroke-linecap="round" stroke-linejoin="round"/>
<path d="M1245.00 333.23 L1245.00 335.15" stroke="#840000" stroke-width="1.2" fill="none" stroke-linecap="round" stroke-linejoin="round"/>
<path d="M1245.00 335.15 L1245.00 344.75" stroke="#840000" stroke-width="1.4" fill="none" stroke-linecap="round" stroke-linejoin="round"/>
<text x="1265.35" y="311.40" fill="#006464" font-size="15.3" textLength="18.20" lengthAdjust="spacingAndGlyphs" stroke="#006464" stroke-width="0.2">R4</text>
<text x="1265.35" y="331.00" fill="#006464" font-size="15.3" textLength="42.12" lengthAdjust="spacingAndGlyphs" stroke="#006464" stroke-width="0.2">4.7KΩ</text>
<path d="M1245.00 344.75 L1245.00 402.35" stroke="#840000" stroke-width="1.4" fill="none" stroke-linecap="round" stroke-linejoin="round"/>
<path d="M1235.40 363.95 L1254.60 363.95 L1245.00 383.15 L1235.40 363.95" stroke="#840000" stroke-width="1.92" fill="none" stroke-linecap="round" stroke-linejoin="miter" stroke-miterlimit="10"/>
<path d="M1235.40 383.15 L1254.60 383.15" stroke="#840000" stroke-width="1.92" fill="none" stroke-linecap="round" stroke-linejoin="round"/>
<path d="M1250.76 386.99 L1262.28 398.51" stroke="#840000" stroke-width="1.2" fill="none" stroke-linecap="round" stroke-linejoin="round"/>
<path d="M1262.28 392.75 L1262.28 398.51 L1256.52 398.51" stroke="#840000" stroke-width="1.2" fill="none" stroke-linecap="round" stroke-linejoin="miter"/>
<path d="M1250.76 396.59 L1262.28 408.11" stroke="#840000" stroke-width="1.2" fill="none" stroke-linecap="round" stroke-linejoin="round"/>
<path d="M1262.28 402.35 L1262.28 408.11 L1256.52 408.11" stroke="#840000" stroke-width="1.2" fill="none" stroke-linecap="round" stroke-linejoin="miter"/>
<text x="1274.90" y="380.80" fill="#006464" font-size="15.3" textLength="34.76" lengthAdjust="spacingAndGlyphs" stroke="#006464" stroke-width="0.2">LED3</text>
<path d="M1245.00 421.55 L1245.00 431.15 L1254.60 431.15 L1245.00 440.75 L1235.40 431.15 L1245.00 431.15" stroke="#840000" stroke-width="1.2" fill="none" stroke-linecap="round" stroke-linejoin="round"/>
<text x="1230.61" y="465.10" fill="#006464" font-size="15.3" textLength="28.78" lengthAdjust="spacingAndGlyphs" stroke="#006464" stroke-width="0.2">GND</text>
<path d="M1321.60 287.15 L1321.60 296.75" stroke="#840000" stroke-width="1.4" fill="none" stroke-linecap="round" stroke-linejoin="round"/>
<path d="M1321.60 296.75 L1321.60 298.67" stroke="#840000" stroke-width="1.2" fill="none" stroke-linecap="round" stroke-linejoin="round"/>
<path d="M1321.60 298.67 L1329.28 301.55 L1321.60 304.43 L1313.92 307.31 L1321.60 310.19 L1329.28 313.07 L1321.60 315.95 L1313.92 318.83 L1321.60 321.71 L1329.28 324.59 L1321.60 327.47 L1313.92 330.35 L1321.60 333.23" stroke="#840000" stroke-width="1.3" fill="none" stroke-linecap="round" stroke-linejoin="round"/>
<path d="M1321.60 333.23 L1321.60 335.15" stroke="#840000" stroke-width="1.2" fill="none" stroke-linecap="round" stroke-linejoin="round"/>
<path d="M1321.60 335.15 L1321.60 344.75" stroke="#840000" stroke-width="1.4" fill="none" stroke-linecap="round" stroke-linejoin="round"/>
<text x="1341.95" y="311.40" fill="#006464" font-size="15.3" textLength="18.20" lengthAdjust="spacingAndGlyphs" stroke="#006464" stroke-width="0.2">R5</text>
<text x="1341.95" y="331.00" fill="#006464" font-size="15.3" textLength="42.12" lengthAdjust="spacingAndGlyphs" stroke="#006464" stroke-width="0.2">4.7KΩ</text>
<path d="M1321.60 344.75 L1321.60 402.35" stroke="#840000" stroke-width="1.4" fill="none" stroke-linecap="round" stroke-linejoin="round"/>
<path d="M1312.00 363.95 L1331.20 363.95 L1321.60 383.15 L1312.00 363.95" stroke="#840000" stroke-width="1.92" fill="none" stroke-linecap="round" stroke-linejoin="miter" stroke-miterlimit="10"/>
<path d="M1312.00 383.15 L1331.20 383.15" stroke="#840000" stroke-width="1.92" fill="none" stroke-linecap="round" stroke-linejoin="round"/>
<path d="M1327.36 386.99 L1338.88 398.51" stroke="#840000" stroke-width="1.2" fill="none" stroke-linecap="round" stroke-linejoin="round"/>
<path d="M1338.88 392.75 L1338.88 398.51 L1333.12 398.51" stroke="#840000" stroke-width="1.2" fill="none" stroke-linecap="round" stroke-linejoin="miter"/>
<path d="M1327.36 396.59 L1338.88 408.11" stroke="#840000" stroke-width="1.2" fill="none" stroke-linecap="round" stroke-linejoin="round"/>
<path d="M1338.88 402.35 L1338.88 408.11 L1333.12 408.11" stroke="#840000" stroke-width="1.2" fill="none" stroke-linecap="round" stroke-linejoin="miter"/>
<text x="1351.50" y="380.80" fill="#006464" font-size="15.3" textLength="34.76" lengthAdjust="spacingAndGlyphs" stroke="#006464" stroke-width="0.2">LED4</text>
<path d="M1321.60 421.55 L1321.60 431.15 L1331.20 431.15 L1321.60 440.75 L1312.00 431.15 L1321.60 431.15" stroke="#840000" stroke-width="1.2" fill="none" stroke-linecap="round" stroke-linejoin="round"/>
<text x="1307.21" y="465.10" fill="#006464" font-size="15.3" textLength="28.78" lengthAdjust="spacingAndGlyphs" stroke="#006464" stroke-width="0.2">GND</text>
<path d="M1398.40 287.15 L1398.40 296.75" stroke="#840000" stroke-width="1.4" fill="none" stroke-linecap="round" stroke-linejoin="round"/>
<path d="M1398.40 296.75 L1398.40 298.67" stroke="#840000" stroke-width="1.2" fill="none" stroke-linecap="round" stroke-linejoin="round"/>
<path d="M1398.40 298.67 L1406.08 301.55 L1398.40 304.43 L1390.72 307.31 L1398.40 310.19 L1406.08 313.07 L1398.40 315.95 L1390.72 318.83 L1398.40 321.71 L1406.08 324.59 L1398.40 327.47 L1390.72 330.35 L1398.40 333.23" stroke="#840000" stroke-width="1.3" fill="none" stroke-linecap="round" stroke-linejoin="round"/>
<path d="M1398.40 333.23 L1398.40 335.15" stroke="#840000" stroke-width="1.2" fill="none" stroke-linecap="round" stroke-linejoin="round"/>
<path d="M1398.40 335.15 L1398.40 344.75" stroke="#840000" stroke-width="1.4" fill="none" stroke-linecap="round" stroke-linejoin="round"/>
<text x="1418.75" y="311.40" fill="#006464" font-size="15.3" textLength="18.20" lengthAdjust="spacingAndGlyphs" stroke="#006464" stroke-width="0.2">R6</text>
<text x="1418.75" y="331.00" fill="#006464" font-size="15.3" textLength="42.12" lengthAdjust="spacingAndGlyphs" stroke="#006464" stroke-width="0.2">4.7KΩ</text>
<path d="M1398.40 344.75 L1398.40 402.35" stroke="#840000" stroke-width="1.4" fill="none" stroke-linecap="round" stroke-linejoin="round"/>
<path d="M1388.80 363.95 L1408.00 363.95 L1398.40 383.15 L1388.80 363.95" stroke="#840000" stroke-width="1.92" fill="none" stroke-linecap="round" stroke-linejoin="miter" stroke-miterlimit="10"/>
<path d="M1388.80 383.15 L1408.00 383.15" stroke="#840000" stroke-width="1.92" fill="none" stroke-linecap="round" stroke-linejoin="round"/>
<path d="M1404.16 386.99 L1415.68 398.51" stroke="#840000" stroke-width="1.2" fill="none" stroke-linecap="round" stroke-linejoin="round"/>
<path d="M1415.68 392.75 L1415.68 398.51 L1409.92 398.51" stroke="#840000" stroke-width="1.2" fill="none" stroke-linecap="round" stroke-linejoin="miter"/>
<path d="M1404.16 396.59 L1415.68 408.11" stroke="#840000" stroke-width="1.2" fill="none" stroke-linecap="round" stroke-linejoin="round"/>
<path d="M1415.68 402.35 L1415.68 408.11 L1409.92 408.11" stroke="#840000" stroke-width="1.2" fill="none" stroke-linecap="round" stroke-linejoin="miter"/>
<text x="1428.40" y="380.80" fill="#006464" font-size="15.3" textLength="34.76" lengthAdjust="spacingAndGlyphs" stroke="#006464" stroke-width="0.2">LED5</text>
<path d="M1398.40 421.55 L1398.40 431.15 L1408.00 431.15 L1398.40 440.75 L1388.80 431.15 L1398.40 431.15" stroke="#840000" stroke-width="1.2" fill="none" stroke-linecap="round" stroke-linejoin="round"/>
<text x="1384.01" y="465.10" fill="#006464" font-size="15.3" textLength="28.78" lengthAdjust="spacingAndGlyphs" stroke="#006464" stroke-width="0.2">GND</text>
<path d="M1475.20 287.15 L1475.20 296.75" stroke="#840000" stroke-width="1.4" fill="none" stroke-linecap="round" stroke-linejoin="round"/>
<path d="M1475.20 296.75 L1475.20 298.67" stroke="#840000" stroke-width="1.2" fill="none" stroke-linecap="round" stroke-linejoin="round"/>
<path d="M1475.20 298.67 L1482.88 301.55 L1475.20 304.43 L1467.52 307.31 L1475.20 310.19 L1482.88 313.07 L1475.20 315.95 L1467.52 318.83 L1475.20 321.71 L1482.88 324.59 L1475.20 327.47 L1467.52 330.35 L1475.20 333.23" stroke="#840000" stroke-width="1.3" fill="none" stroke-linecap="round" stroke-linejoin="round"/>
<path d="M1475.20 333.23 L1475.20 335.15" stroke="#840000" stroke-width="1.2" fill="none" stroke-linecap="round" stroke-linejoin="round"/>
<path d="M1475.20 335.15 L1475.20 344.75" stroke="#840000" stroke-width="1.4" fill="none" stroke-linecap="round" stroke-linejoin="round"/>
<text x="1495.55" y="311.40" fill="#006464" font-size="15.3" textLength="18.20" lengthAdjust="spacingAndGlyphs" stroke="#006464" stroke-width="0.2">R7</text>
<text x="1495.55" y="331.00" fill="#006464" font-size="15.3" textLength="42.12" lengthAdjust="spacingAndGlyphs" stroke="#006464" stroke-width="0.2">4.7KΩ</text>
<path d="M1475.20 344.75 L1475.20 402.35" stroke="#840000" stroke-width="1.4" fill="none" stroke-linecap="round" stroke-linejoin="round"/>
<path d="M1465.60 363.95 L1484.80 363.95 L1475.20 383.15 L1465.60 363.95" stroke="#840000" stroke-width="1.92" fill="none" stroke-linecap="round" stroke-linejoin="miter" stroke-miterlimit="10"/>
<path d="M1465.60 383.15 L1484.80 383.15" stroke="#840000" stroke-width="1.92" fill="none" stroke-linecap="round" stroke-linejoin="round"/>
<path d="M1480.96 386.99 L1492.48 398.51" stroke="#840000" stroke-width="1.2" fill="none" stroke-linecap="round" stroke-linejoin="round"/>
<path d="M1492.48 392.75 L1492.48 398.51 L1486.72 398.51" stroke="#840000" stroke-width="1.2" fill="none" stroke-linecap="round" stroke-linejoin="miter"/>
<path d="M1480.96 396.59 L1492.48 408.11" stroke="#840000" stroke-width="1.2" fill="none" stroke-linecap="round" stroke-linejoin="round"/>
<path d="M1492.48 402.35 L1492.48 408.11 L1486.72 408.11" stroke="#840000" stroke-width="1.2" fill="none" stroke-linecap="round" stroke-linejoin="miter"/>
<text x="1505.20" y="380.80" fill="#006464" font-size="15.3" textLength="34.76" lengthAdjust="spacingAndGlyphs" stroke="#006464" stroke-width="0.2">LED6</text>
<path d="M1475.20 421.55 L1475.20 431.15 L1484.80 431.15 L1475.20 440.75 L1465.60 431.15 L1475.20 431.15" stroke="#840000" stroke-width="1.2" fill="none" stroke-linecap="round" stroke-linejoin="round"/>
<text x="1460.81" y="465.10" fill="#006464" font-size="15.3" textLength="28.78" lengthAdjust="spacingAndGlyphs" stroke="#006464" stroke-width="0.2">GND</text>
<path d="M1551.90 287.15 L1551.90 296.75" stroke="#840000" stroke-width="1.4" fill="none" stroke-linecap="round" stroke-linejoin="round"/>
<path d="M1551.90 296.75 L1551.90 298.67" stroke="#840000" stroke-width="1.2" fill="none" stroke-linecap="round" stroke-linejoin="round"/>
<path d="M1551.90 298.67 L1559.58 301.55 L1551.90 304.43 L1544.22 307.31 L1551.90 310.19 L1559.58 313.07 L1551.90 315.95 L1544.22 318.83 L1551.90 321.71 L1559.58 324.59 L1551.90 327.47 L1544.22 330.35 L1551.90 333.23" stroke="#840000" stroke-width="1.3" fill="none" stroke-linecap="round" stroke-linejoin="round"/>
<path d="M1551.90 333.23 L1551.90 335.15" stroke="#840000" stroke-width="1.2" fill="none" stroke-linecap="round" stroke-linejoin="round"/>
<path d="M1551.90 335.15 L1551.90 344.75" stroke="#840000" stroke-width="1.4" fill="none" stroke-linecap="round" stroke-linejoin="round"/>
<text x="1572.25" y="311.40" fill="#006464" font-size="15.3" textLength="18.20" lengthAdjust="spacingAndGlyphs" stroke="#006464" stroke-width="0.2">R8</text>
<text x="1572.25" y="331.00" fill="#006464" font-size="15.3" textLength="42.12" lengthAdjust="spacingAndGlyphs" stroke="#006464" stroke-width="0.2">4.7KΩ</text>
<path d="M1551.90 344.75 L1551.90 402.35" stroke="#840000" stroke-width="1.4" fill="none" stroke-linecap="round" stroke-linejoin="round"/>
<path d="M1542.30 363.95 L1561.50 363.95 L1551.90 383.15 L1542.30 363.95" stroke="#840000" stroke-width="1.92" fill="none" stroke-linecap="round" stroke-linejoin="miter" stroke-miterlimit="10"/>
<path d="M1542.30 383.15 L1561.50 383.15" stroke="#840000" stroke-width="1.92" fill="none" stroke-linecap="round" stroke-linejoin="round"/>
<path d="M1557.66 386.99 L1569.18 398.51" stroke="#840000" stroke-width="1.2" fill="none" stroke-linecap="round" stroke-linejoin="round"/>
<path d="M1569.18 392.75 L1569.18 398.51 L1563.42 398.51" stroke="#840000" stroke-width="1.2" fill="none" stroke-linecap="round" stroke-linejoin="miter"/>
<path d="M1557.66 396.59 L1569.18 408.11" stroke="#840000" stroke-width="1.2" fill="none" stroke-linecap="round" stroke-linejoin="round"/>
<path d="M1569.18 402.35 L1569.18 408.11 L1563.42 408.11" stroke="#840000" stroke-width="1.2" fill="none" stroke-linecap="round" stroke-linejoin="miter"/>
<text x="1582.20" y="380.80" fill="#006464" font-size="15.3" textLength="34.76" lengthAdjust="spacingAndGlyphs" stroke="#006464" stroke-width="0.2">LED7</text>
<path d="M1551.90 421.55 L1551.90 431.15 L1561.50 431.15 L1551.90 440.75 L1542.30 431.15 L1551.90 431.15" stroke="#840000" stroke-width="1.2" fill="none" stroke-linecap="round" stroke-linejoin="round"/>
<text x="1537.51" y="465.10" fill="#006464" font-size="15.3" textLength="28.78" lengthAdjust="spacingAndGlyphs" stroke="#006464" stroke-width="0.2">GND</text>
<path d="M1630.50 287.15 L1630.50 296.75" stroke="#840000" stroke-width="1.4" fill="none" stroke-linecap="round" stroke-linejoin="round"/>
<path d="M1630.50 296.75 L1630.50 298.67" stroke="#840000" stroke-width="1.2" fill="none" stroke-linecap="round" stroke-linejoin="round"/>
<path d="M1630.50 298.67 L1638.18 301.55 L1630.50 304.43 L1622.82 307.31 L1630.50 310.19 L1638.18 313.07 L1630.50 315.95 L1622.82 318.83 L1630.50 321.71 L1638.18 324.59 L1630.50 327.47 L1622.82 330.35 L1630.50 333.23" stroke="#840000" stroke-width="1.3" fill="none" stroke-linecap="round" stroke-linejoin="round"/>
<path d="M1630.50 333.23 L1630.50 335.15" stroke="#840000" stroke-width="1.2" fill="none" stroke-linecap="round" stroke-linejoin="round"/>
<path d="M1630.50 335.15 L1630.50 344.75" stroke="#840000" stroke-width="1.4" fill="none" stroke-linecap="round" stroke-linejoin="round"/>
<text x="1650.85" y="311.40" fill="#006464" font-size="15.3" textLength="18.20" lengthAdjust="spacingAndGlyphs" stroke="#006464" stroke-width="0.2">R9</text>
<text x="1650.85" y="331.00" fill="#006464" font-size="15.3" textLength="42.12" lengthAdjust="spacingAndGlyphs" stroke="#006464" stroke-width="0.2">4.7KΩ</text>
<path d="M1630.50 344.75 L1630.50 402.35" stroke="#840000" stroke-width="1.4" fill="none" stroke-linecap="round" stroke-linejoin="round"/>
<path d="M1620.90 363.95 L1640.10 363.95 L1630.50 383.15 L1620.90 363.95" stroke="#840000" stroke-width="1.92" fill="none" stroke-linecap="round" stroke-linejoin="miter" stroke-miterlimit="10"/>
<path d="M1620.90 383.15 L1640.10 383.15" stroke="#840000" stroke-width="1.92" fill="none" stroke-linecap="round" stroke-linejoin="round"/>
<path d="M1636.26 386.99 L1647.78 398.51" stroke="#840000" stroke-width="1.2" fill="none" stroke-linecap="round" stroke-linejoin="round"/>
<path d="M1647.78 392.75 L1647.78 398.51 L1642.02 398.51" stroke="#840000" stroke-width="1.2" fill="none" stroke-linecap="round" stroke-linejoin="miter"/>
<path d="M1636.26 396.59 L1647.78 408.11" stroke="#840000" stroke-width="1.2" fill="none" stroke-linecap="round" stroke-linejoin="round"/>
<path d="M1647.78 402.35 L1647.78 408.11 L1642.02 408.11" stroke="#840000" stroke-width="1.2" fill="none" stroke-linecap="round" stroke-linejoin="miter"/>
<text x="1659.00" y="380.80" fill="#006464" font-size="15.3" textLength="34.76" lengthAdjust="spacingAndGlyphs" stroke="#006464" stroke-width="0.2">LED8</text>
<path d="M1630.50 421.55 L1630.50 431.15 L1640.10 431.15 L1630.50 440.75 L1620.90 431.15 L1630.50 431.15" stroke="#840000" stroke-width="1.2" fill="none" stroke-linecap="round" stroke-linejoin="round"/>
<text x="1616.11" y="465.10" fill="#006464" font-size="15.3" textLength="28.78" lengthAdjust="spacingAndGlyphs" stroke="#006464" stroke-width="0.2">GND</text>
</g>
<g id="labels">
<text x="189.80" y="302.95" fill="#0f0f0f" font-size="15.3" textLength="18.20" lengthAdjust="spacingAndGlyphs">CS</text>
<text x="192.20" y="379.75" fill="#0f0f0f" font-size="15.3" textLength="32.46" lengthAdjust="spacingAndGlyphs">COPI</text>
<text x="189.80" y="418.15" fill="#0f0f0f" font-size="15.3" textLength="27.86" lengthAdjust="spacingAndGlyphs">SCK</text>
<text x="429.57" y="53.65" fill="#0f0f0f" font-size="15.3" textLength="28.78" lengthAdjust="spacingAndGlyphs">+5V</text>
<text x="631.80" y="264.55" fill="#0f0f0f" font-size="15.3" textLength="32.46" lengthAdjust="spacingAndGlyphs">COPI</text>
<text x="631.40" y="302.95" fill="#0f0f0f" font-size="15.3" textLength="27.86" lengthAdjust="spacingAndGlyphs">SCK</text>
<text x="631.40" y="360.55" fill="#0f0f0f" font-size="15.3" textLength="18.20" lengthAdjust="spacingAndGlyphs">CS</text>
<text x="956.80" y="264.55" fill="#0f0f0f" font-size="15.3" textLength="18.20" lengthAdjust="spacingAndGlyphs">D0</text>
<text x="956.80" y="283.75" fill="#0f0f0f" font-size="15.3" textLength="18.20" lengthAdjust="spacingAndGlyphs">D1</text>
<text x="956.80" y="302.95" fill="#0f0f0f" font-size="15.3" textLength="18.20" lengthAdjust="spacingAndGlyphs">D2</text>
<text x="956.80" y="322.15" fill="#0f0f0f" font-size="15.3" textLength="18.20" lengthAdjust="spacingAndGlyphs">D3</text>
<text x="956.80" y="341.35" fill="#0f0f0f" font-size="15.3" textLength="18.20" lengthAdjust="spacingAndGlyphs">D4</text>
<text x="956.80" y="360.55" fill="#0f0f0f" font-size="15.3" textLength="18.20" lengthAdjust="spacingAndGlyphs">D5</text>
<text x="956.80" y="379.75" fill="#0f0f0f" font-size="15.3" textLength="18.20" lengthAdjust="spacingAndGlyphs">D6</text>
<text x="956.80" y="398.95" fill="#0f0f0f" font-size="15.3" textLength="18.20" lengthAdjust="spacingAndGlyphs">D7</text>
<text transform="translate(1088.51 248.95) rotate(-90)" fill="#0f0f0f" font-size="17" textLength="18.50" lengthAdjust="spacingAndGlyphs">D7</text>
<text transform="translate(1165.36 248.95) rotate(-90)" fill="#0f0f0f" font-size="17" textLength="18.50" lengthAdjust="spacingAndGlyphs">D6</text>
<text transform="translate(1242.36 248.95) rotate(-90)" fill="#0f0f0f" font-size="17" textLength="18.50" lengthAdjust="spacingAndGlyphs">D5</text>
<text transform="translate(1318.96 248.95) rotate(-90)" fill="#0f0f0f" font-size="17" textLength="18.50" lengthAdjust="spacingAndGlyphs">D4</text>
<text transform="translate(1395.76 248.95) rotate(-90)" fill="#0f0f0f" font-size="17" textLength="18.50" lengthAdjust="spacingAndGlyphs">D3</text>
<text transform="translate(1472.56 248.95) rotate(-90)" fill="#0f0f0f" font-size="17" textLength="18.50" lengthAdjust="spacingAndGlyphs">D2</text>
<text transform="translate(1549.26 248.95) rotate(-90)" fill="#0f0f0f" font-size="17" textLength="18.50" lengthAdjust="spacingAndGlyphs">D1</text>
<text transform="translate(1627.86 248.95) rotate(-90)" fill="#0f0f0f" font-size="17" textLength="18.50" lengthAdjust="spacingAndGlyphs">D0</text>
</g>
</svg>
</body>
</html>
